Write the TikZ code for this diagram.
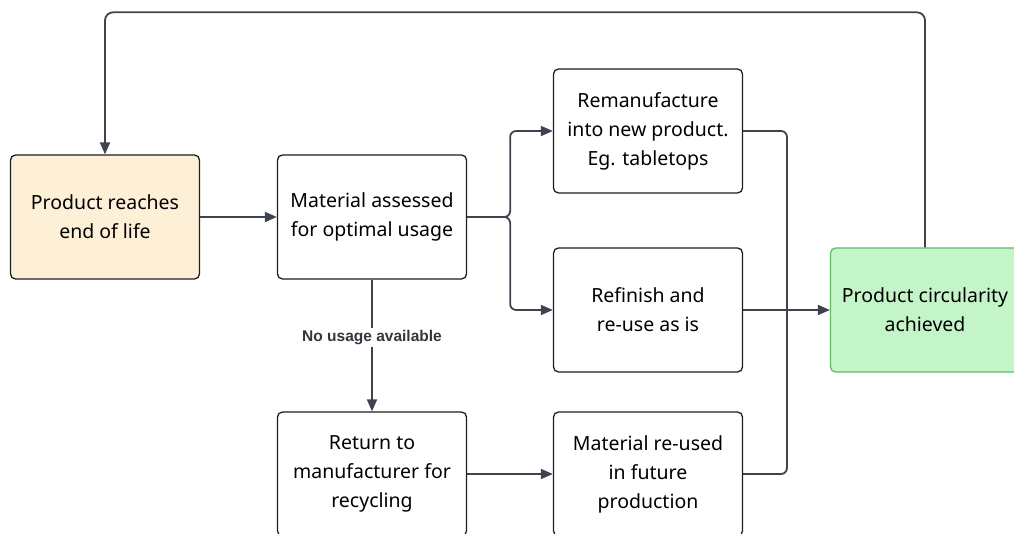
\documentclass[tikz,border=0pt]{standalone}
\usepackage{fontspec}
\setmainfont{Noto Sans}
\newfontfamily\labelfont{Liberation Sans}
\usepackage{xcolor}
\usetikzlibrary{positioning,arrows.meta}
\definecolor{linegray}{HTML}{3D4450}
\definecolor{labelgray}{HTML}{33373D}
\definecolor{boxline}{HTML}{1E1E1E}
\definecolor{startfill}{HTML}{FEF0D7}
\definecolor{endfill}{HTML}{C4F5C8}
\definecolor{endline}{HTML}{5DBE68}

\begin{document}
\begin{tikzpicture}[x=1pt, y=-1pt,
    box/.style={draw=boxline, fill=white, line width=1.3pt, rectangle, rounded corners=5pt,
      minimum width=189pt, minimum height=124pt, align=center,
      font=\fontsize{19.5}{29}\selectfont},
    link/.style={draw=linegray, line width=1.8pt},
    edge_label/.style={fill=white, text=labelgray, inner sep=2pt,
      font=\labelfont\bfseries\fontsize{15.5}{18}\selectfont},
    >={Triangle[length=12pt,width=10pt]}]
    \useasboundingbox (0,0) rectangle (1014,534);
    \node [box, fill=startfill] (node_eol) at (105,217) {Product reaches\\end of life};
    \path (node_eol) ++ (267,0) node [box] (node_assess) {Material assessed\\for optimal usage};
    \path (node_assess) ++ (276,-86) node [box] (node_reman) {Remanufacture\\into new product.\\Eg. tabletops};
    \path (node_assess) ++ (276,93) node [box] (node_refinish) {Refinish and\\re-use as is};
    \path (node_refinish) ++ (277,0) node [box, draw=endline, fill=endfill] (node_circ) {Product circularity\\achieved};
    \path (node_assess) ++ (0,257) node [box] (node_return) {Return to\\manufacturer for\\recycling};
    \path (node_return) ++ (276,0) node [box] (node_reuse) {Material re-used\\in future\\production};
    \coordinate (join) at (787,310);

    \draw [link, ->] (node_eol) -- (node_assess);
    \draw [link, ->, rounded corners=6pt] (node_assess.east) -- ++(43,0) |- (node_reman.west);
    \draw [link, ->, rounded corners=6pt] (node_assess.east) -- ++(43,0) |- (node_refinish.west);
    \draw [link, ->] (node_assess) -- node [edge_label, pos=0.44] {No usage available} (node_return);
    \draw [link, ->] (node_return) -- (node_reuse);
    \draw [link, rounded corners=6pt] (node_reman.east) -| (join);
    \draw [link, rounded corners=6pt] (node_reuse.east) -| (join);
    \draw [link, ->] (node_refinish) -- (node_circ);
    \draw [link, ->, rounded corners=8pt] (node_circ.north) -- ++(0,-235) -| (node_eol.north);
  \end{tikzpicture}
\end{document}
